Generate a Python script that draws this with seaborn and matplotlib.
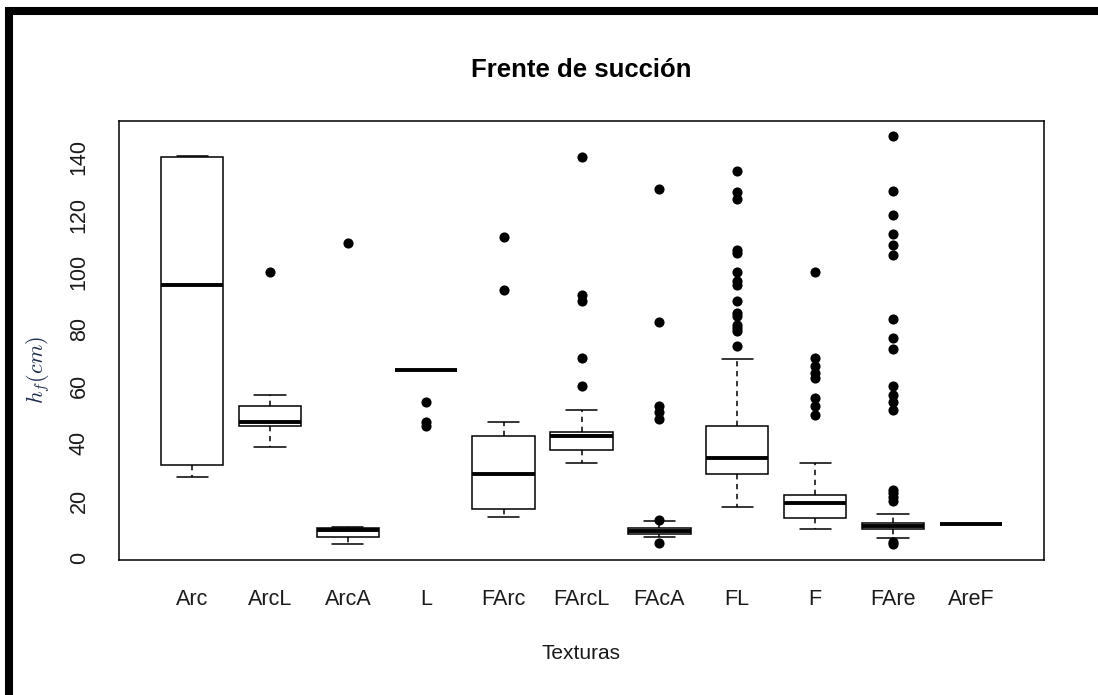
import matplotlib
matplotlib.use("Agg")
import matplotlib.pyplot as plt
from matplotlib.patches import Rectangle
import pandas as pd
import seaborn as sns

# box summary per texture (hf in cm)
texturas = ["Arc", "ArcL", "ArcA", "L", "FArc", "FArcL", "FAcA", "FL", "F", "FAre", "AreF"]
whisker_lo = [28.2, 38.7, 4.8, 65.8, 14.4, 33.1, 7.1, 17.7, 9.9, 6.8, 11.9]
q1 = [32.5, 46.2, 7.2, 65.8, 17.1, 37.5, 8.3, 29.2, 13.8, 9.9, 11.9]
mediana = [95.2, 47.4, 9.7, 65.8, 29.3, 42.4, 9.3, 34.8, 19.1, 11.0, 11.9]
q3 = [140.0, 52.9, 10.5, 65.8, 42.7, 43.8, 10.3, 46.2, 22.0, 12.0, 11.9]
whisker_hi = [140.4, 57.0, 10.6, 65.8, 47.6, 51.7, 12.9, 69.6, 33.1, 15.2, 11.9]

# outliers per texture
atipicos = {
    "ArcL": [100.0],
    "ArcA": [110.0],
    "L": [54.5, 47.5, 46.2],
    "FArc": [112.2, 93.7],
    "FArcL": [140.0, 92.0, 89.7, 70.0, 59.9],
    "FAcA": [128.8, 82.3, 53.1, 50.8, 48.5, 13.3, 5.3],
    "FL": [135.2, 127.8, 125.3, 107.7, 106.6, 99.8, 96.7, 95.3, 89.9, 85.6,
           84.4, 81.5, 80.3, 79.1, 73.9],
    "F": [99.8, 69.8, 66.9, 64.6, 63.0, 55.8, 52.9, 50.0],
    "FAre": [147.5, 128.1, 119.8, 113.3, 109.2, 105.8, 83.3, 76.9, 73.0, 59.9,
             57.0, 54.3, 51.7, 23.8, 22.5, 21.2, 20.0, 5.5, 4.8],
}

# five points per group -> quartiles land exactly on q1/median/q3 (linear percentiles)
rows = []
for i, t in enumerate(texturas):
    for v in (whisker_lo[i], q1[i], mediana[i], q3[i], whisker_hi[i]):
        rows.append({"textura": t, "hf": v})
box_df = pd.DataFrame(rows)
out_df = pd.DataFrame([{"textura": t, "hf": v} for t, vals in atipicos.items() for v in vals])

sns.set_style("white")
plt.rcParams["font.family"] = ["Liberation Sans", "DejaVu Sans"]
plt.rcParams["mathtext.fontset"] = "cm"

fig, ax = plt.subplots(figsize=(10.98, 6.95), dpi=100)
fig.subplots_adjust(left=119 / 1098, right=1044 / 1098, top=1 - 121 / 695, bottom=1 - 560 / 695)

sns.boxplot(data=box_df, x="textura", y="hf", order=texturas, whis=(0, 100),
            width=0.8, color="white", linecolor="black", linewidth=1.1,
            showfliers=False, medianprops={"linewidth": 2.8},
            whiskerprops={"linestyle": (0, (3.5, 3))}, ax=ax)
sns.stripplot(data=out_df, x="textura", y="hf", order=texturas, jitter=False,
              color="black", size=7.3, linewidth=0, ax=ax)

ax.set_xlim(-0.94, 10.94)
ax.set_ylim(-0.8, 152.7)
ax.set_yticks(range(0, 141, 20))

for s in ax.spines.values():
    s.set_visible(True)
    s.set_color("black")
    s.set_linewidth(1.1)

ax.tick_params(axis="both", direction="out", length=9, width=0.9, pad=12,
               labelsize=15.5, color="#333333", labelcolor="#1a1a1a")
ax.tick_params(axis="y", labelrotation=90)
for lab in ax.get_yticklabels():
    lab.set_va("center")

ax.set_xlabel("Texturas", fontsize=15, color="#1a1a1a")
ax.xaxis.set_label_coords(0.5, -0.212)
ax.xaxis.label.set_va("center")
ax.set_ylabel(r"$h_f(cm)$", fontsize=16, color="#1c2a4a")
ax.yaxis.set_label_coords(-0.0876, 0.433)
ax.yaxis.label.set_va("center")
ax.yaxis.label.set_ha("center")

ax.set_title("Frente de succión", fontsize=18.5, fontweight="bold", y=1.116, va="center", pad=0,
             color="black")

# thick black frame around the figure (cut off at the right and bottom)
fig.add_artist(Rectangle((9 / 1098, -2 / 695), 1200 / 1098, (697 - 10.5) / 695,
                         transform=fig.transFigure, fill=False, edgecolor="black",
                         linewidth=5.8, clip_on=False))

fig.savefig("out.png", dpi=100)
